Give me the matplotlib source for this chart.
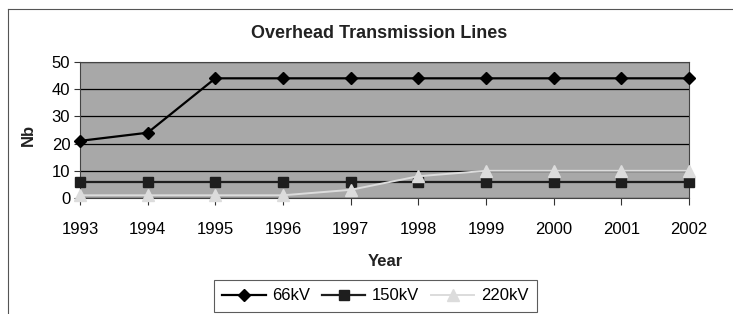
import numpy as np
import matplotlib
matplotlib.use('Agg')
from matplotlib import pyplot as plt
from matplotlib.lines import Line2D

plt.rcParams['font.family'] = ['Liberation Sans', 'DejaVu Sans']

years = [1993, 1994, 1995, 1996, 1997, 1998, 1999, 2000, 2001, 2002]
kv66 = [21, 24, 44, 44, 44, 44, 44, 44, 44, 44]
kv150 = [6, 6, 6, 6, 6, 6, 6, 6, 6, 6]
kv220 = [1, 1, 1, 1, 3, 8, 10, 10, 10, 10]

fig = plt.figure(figsize=(7.33, 3.14), dpi=100)
ax = fig.add_axes([80 / 733, 1 - 198 / 314, 609 / 733, 136 / 314])
ax.set_facecolor('#a8a8a8')

ax.plot(years, kv66, color='black', lw=1.6, marker='D', markersize=6.5, label='66kV', clip_on=False, zorder=4)
ax.plot(years, kv150, color='#1e1e1e', lw=1.6, marker='s', markersize=6.5, label='150kV', clip_on=False, zorder=5)
ax.plot(years, kv220, color='#dcdcdc', lw=1.4, marker='^', markersize=8, label='220kV', clip_on=False, zorder=6)

ax.set_xlim(1993, 2002)
ax.set_ylim(0, 50)
ax.set_xticks(years)
ax.set_yticks(range(0, 51, 10))
ax.yaxis.grid(True, color='black', lw=0.9)
ax.set_axisbelow(True)
ax.tick_params(axis='x', direction='out', length=5, width=0.8, color='#333333', labelsize=12, pad=12)
ax.tick_params(axis='y', direction='out', length=4, width=0.8, color='#333333', labelsize=12, pad=3)
for s in ax.spines.values():
    s.set_color('#444444')
    s.set_linewidth(0.8)

fig.text(379 / 733, 1 - 33 / 314, 'Overhead Transmission Lines', ha='center', va='center',
         fontsize=13, fontweight='bold', color='#222222')
fig.text(385 / 733, 1 - 262 / 314, 'Year', ha='center', va='center', fontsize=12, fontweight='bold', color='#222222')
fig.text(28 / 733, 1 - 135 / 314, 'Nb', ha='center', va='center', rotation=90, fontsize=12, fontweight='bold', color='#222222')

leg = fig.legend(loc='upper left', bbox_to_anchor=(214 / 733, 1 - 280 / 314), ncol=3, fontsize=12,
                 frameon=True, fancybox=False, edgecolor='#333333', handlelength=2.6, columnspacing=0.7,
                 handletextpad=0.4, borderpad=0.5, borderaxespad=0)
leg.get_frame().set_linewidth(0.8)

# outer chart border (top and left edges visible)
fig.add_artist(Line2D([8 / 733, 1], [1 - 9 / 314, 1 - 9 / 314], color='#555555', lw=0.8))
fig.add_artist(Line2D([8 / 733, 8 / 733], [0, 1 - 9 / 314], color='#555555', lw=0.8))

fig.savefig('out.png', dpi=100)
